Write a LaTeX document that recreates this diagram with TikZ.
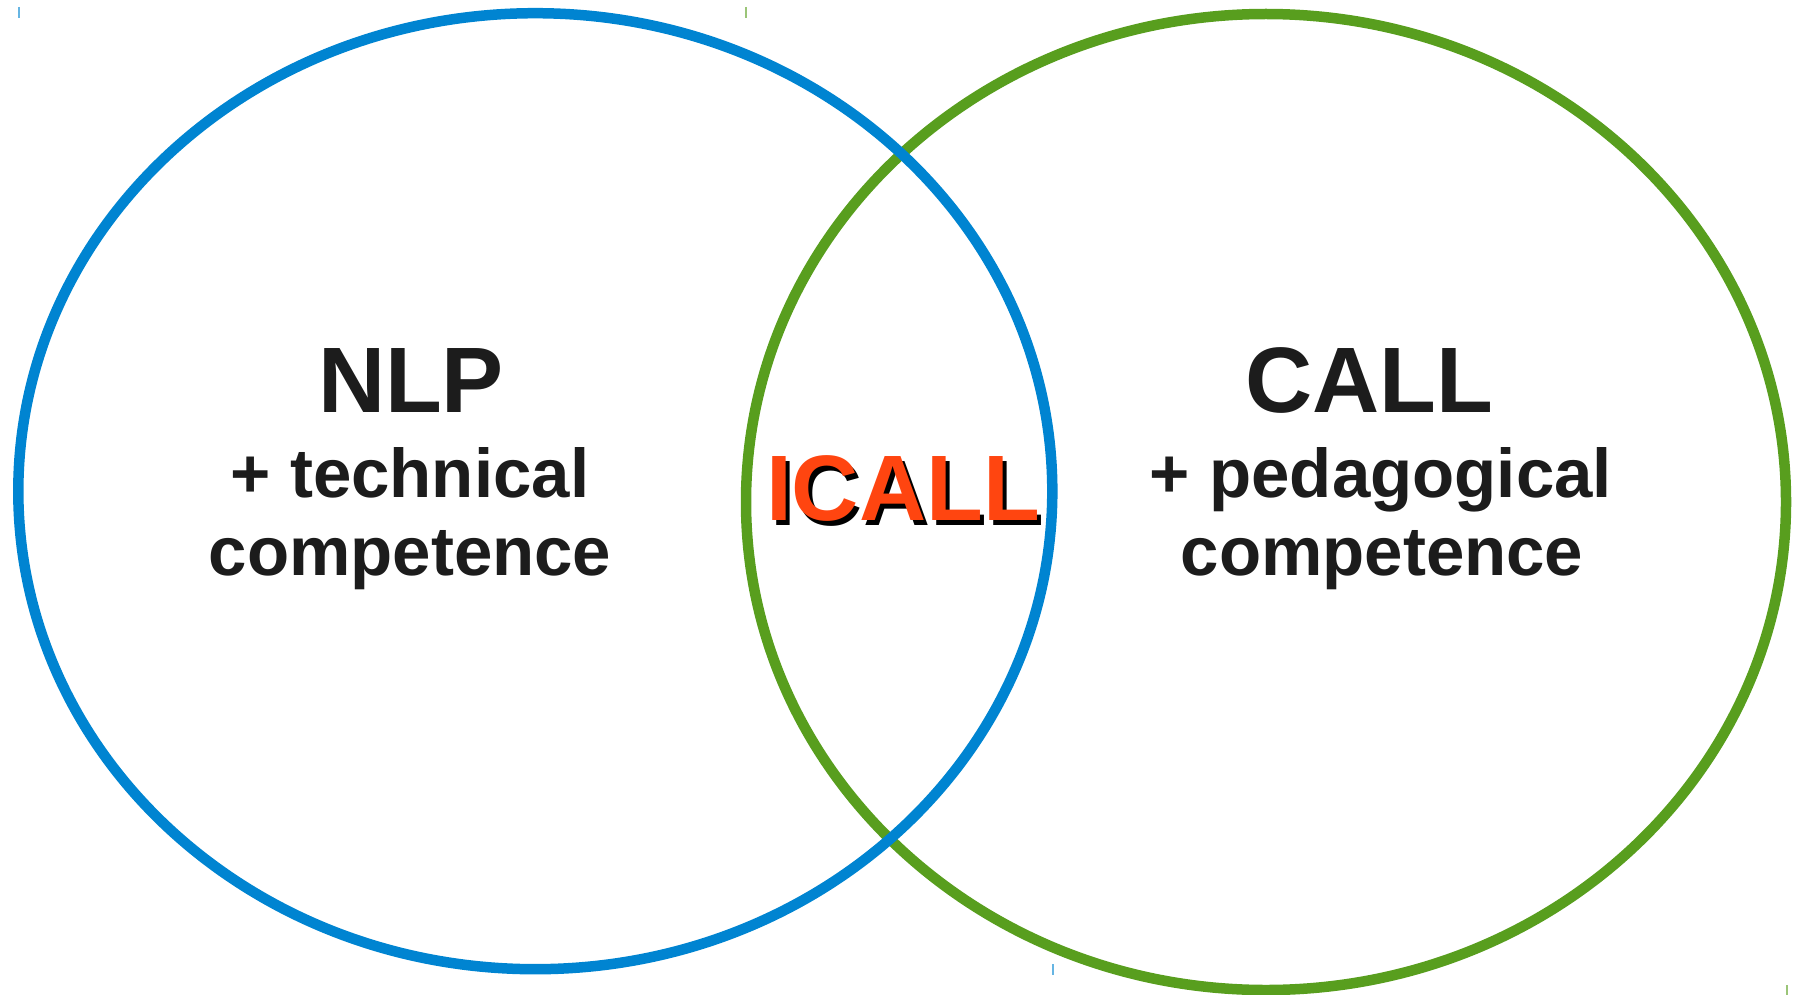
\documentclass[tikz,border=0pt]{standalone}
\usepackage{fontspec}
\setmainfont{Liberation Sans}
\definecolor{nlpblue}{HTML}{0084D1}
\definecolor{callgreen}{HTML}{589E1E}
\definecolor{icallred}{HTML}{FF4510}
\definecolor{inkdark}{HTML}{1C1C1C}
\tikzset{
	ring/.style={line width=10.5pt},
	bigword/.style={font=\fontsize{93}{93}\selectfont\bfseries,text=inkdark,inner sep=0pt,anchor=base},
	subword/.style={font=\fontsize{69}{69}\selectfont\bfseries,text=inkdark,inner sep=0pt,anchor=base},
	cropmark/.style={line width=1.5pt},
}
\begin{document}
\begin{tikzpicture}[x=1pt,y=-1pt]
	\useasboundingbox(0,0)rectangle(1803,995);
	\draw[ring,callgreen](1266,502)ellipse[x radius=520,y radius=488];
	\draw[ring,nlpblue](535.3,491.2)ellipse[x radius=517,y radius=478];
	\foreach \x/\y/\c in{19/7/nlpblue,746/7/callgreen,1053/964/nlpblue,1787/985/callgreen}{
		\draw[cropmark,\c!60](\x,\y)--++(0,11);
	}
	\node[bigword](nlp)at(411,412){NLP};
	\node[subword](nlptech)at(410,497){+ technical};
	\node[subword](nlpcomp)at(410,575){competence};
	\node[bigword](call)at(1369,412){CALL};
	\node[subword](callped)at(1381,497){+ pedagogical};
	\node[subword](callcomp)at(1382,575){competence};
	\node[bigword,text=black](icallshadow)at(907,525){ICALL};
	\node[bigword,text=icallred](icall)at(903,520){ICALL};
\end{tikzpicture}
\end{document}
